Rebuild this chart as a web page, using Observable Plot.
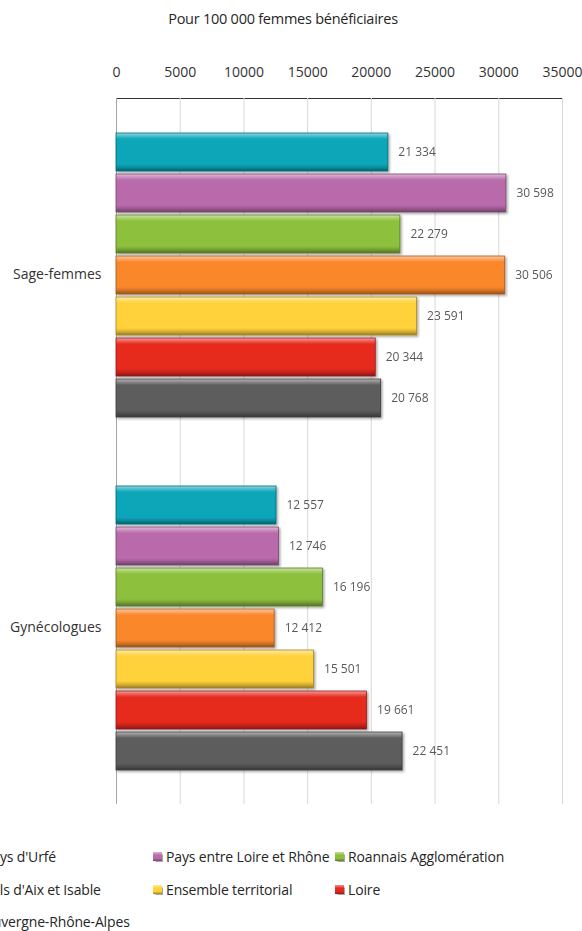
<!DOCTYPE html>
<html>
<head>
<meta charset="utf-8">
<script src="https://cdn.jsdelivr.net/npm/d3@7"></script>
<script src="https://cdn.jsdelivr.net/npm/@observablehq/plot@0.6"></script>
<style>
  html, body { margin: 0; padding: 0; background: #fff; overflow: hidden; }
  #wrap { position: relative; width: 582px; height: 931px; font-family: "Open Sans", sans-serif; color: #333; }
  #title { position: absolute; top: 9px; left: 0; width: 566px; text-align: center; font-size: 14.5px; letter-spacing: -0.25px; color: #262626; }
  #chart { position: absolute; top: 0; left: 0; }
  #legend { position: absolute; top: 847px; left: -29px; width: 640px; font-size: 14px; color: #262626; letter-spacing: -0.15px; }
  .li { position: absolute; white-space: nowrap; display: flex; align-items: center; }
  .sw { width: 9px; height: 9px; margin-right: 4px; box-shadow: 0.5px 0.5px 1px rgba(0,0,0,0.35); }
</style>
</head>
<body>
<div id="wrap">
  <div id="title">Pour 100 000 femmes bénéficiaires</div>
  <div id="chart"></div>
  <div id="legend"></div>
</div>
<script>
const categories = ["Sage-femmes", "Gynécologues"];
const series = ["Pays d'Urfé", "Pays entre Loire et Rhône", "Roannais Agglomération", "Vals d'Aix et Isable", "Ensemble territorial", "Loire", "Auvergne-Rhône-Alpes"];
const sageFemmes = [21334, 30598, 22279, 30506, 23591, 20344, 20768];
const gynecologues = [12557, 12746, 16196, 12412, 15501, 19661, 22451];
const xTicks = [0, 5000, 10000, 15000, 20000, 25000, 30000, 35000];
const colors = ["#08a6b9", "#b96bab", "#8cc03c", "#fa872b", "#ffd13a", "#e6291f", "#5d5d5d"];

const data = [];
[sageFemmes, gynecologues].forEach((vals, ci) => {
  vals.forEach((v, si) => data.push({category: categories[ci], series: series[si], value: v}));
});
const idx = s => series.indexOf(s);
const mix = (c, t, k) => d3.interpolateRgb(c, t)(k);
const fmt = v => d3.format(",")(v).replace(/,/g, " ");

const chart = Plot.plot({
  width: 582,
  height: 822,
  marginTop: 98,
  marginBottom: 18,
  marginLeft: 116,
  marginRight: 20,
  style: {fontFamily: "Open Sans, sans-serif", fontSize: "14px", color: "#333", background: "transparent"},
  x: {domain: [0, 35000], ticks: xTicks, tickFormat: d => String(d), axis: "top", tickSize: 0, tickPadding: 22, label: null, line: true},
  y: {domain: series, paddingInner: 0.08, paddingOuter: 0.84, axis: null},
  fy: {domain: categories, padding: 0, label: null, tickSize: 0, tickPadding: 15},
  marks: [
    Plot.gridX(xTicks.slice(1), {stroke: "#d9d9d9", strokeOpacity: 1}),
    Plot.ruleX([0], {stroke: "#a6a6a6"}),
    Plot.barX(data, {
      x: "value", y: "series", fy: "category",
      fill: {value: d => `url(#grad${idx(d.series)})`, scale: null},
      stroke: {value: d => mix(colors[idx(d.series)], "#000", 0.35), scale: null},
      strokeWidth: 0.8
    }),
    Plot.text(data, {
      x: "value", y: "series", fy: "category",
      text: d => fmt(d.value), dx: 10, textAnchor: "start",
      fill: "#595959", fontSize: 12
    })
  ]
});

// gradients and shadow for the bevelled bars
const svg = d3.select(chart);
const defs = svg.insert("defs", ":first-child");
colors.forEach((c, i) => {
  const g = defs.append("linearGradient").attr("id", `grad${i}`).attr("x1", 0).attr("y1", 0).attr("x2", 0).attr("y2", 1);
  [[0, mix(c, "#fff", 0.55)], [0.07, mix(c, "#fff", 0.3)], [0.16, c], [0.82, c], [0.9, mix(c, "#000", 0.15)], [1, mix(c, "#000", 0.4)]]
    .forEach(([o, col]) => g.append("stop").attr("offset", o).attr("stop-color", col));
});
const f = defs.append("filter").attr("id", "shadow").attr("x", "-5%").attr("y", "-20%").attr("width", "115%").attr("height", "160%");
f.append("feDropShadow").attr("dx", 1.5).attr("dy", 1.5).attr("stdDeviation", 1.2).attr("flood-color", "#000").attr("flood-opacity", 0.35);
svg.selectAll('g[aria-label="bar"]').attr("filter", "url(#shadow)");

document.getElementById("chart").appendChild(chart);

// legend
const legend = document.getElementById("legend");
series.forEach((s, i) => {
  const col = i % 3, row = Math.floor(i / 3);
  const item = document.createElement("div");
  item.className = "li";
  item.style.left = (col * 182) + "px";
  item.style.top = (row * 32.5) + "px";
  const sw = document.createElement("span");
  sw.className = "sw";
  const c = colors[i];
  sw.style.background = `linear-gradient(${mix(c, "#fff", 0.5)}, ${c} 35%, ${c} 70%, ${mix(c, "#000", 0.35)})`;
  item.appendChild(sw);
  const t = document.createElement("span");
  t.textContent = s;
  item.appendChild(t);
  legend.appendChild(item);
});
</script>
</body>
</html>
